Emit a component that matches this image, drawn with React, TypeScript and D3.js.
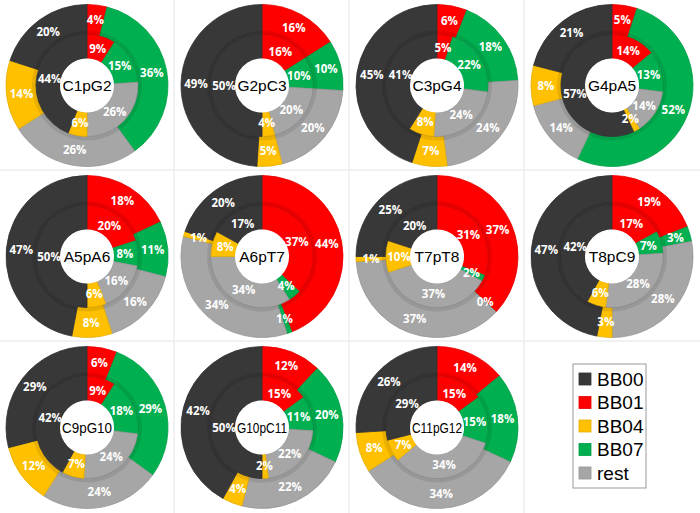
import * as d3 from "d3";
import { useEffect, useRef } from "react";

// pairs shown in each panel, left-to-right, top-to-bottom
const panels = [
  "C1pG2", "G2pC3", "C3pG4", "G4pA5",
  "A5pA6", "A6pT7", "T7pT8", "T8pC9",
  "C9pG10", "G10pC11", "C11pG12",
];

// slice order clockwise from 12 o'clock
const sliceKeys = ["BB01", "BB07", "rest", "BB04", "BB00"];
const legendKeys = ["BB00", "BB01", "BB04", "BB07", "rest"];

// outer ring shares (%), same order as sliceKeys
const outerShares = [
  [4, 36, 26, 14, 20],
  [16, 10, 20, 5, 49],
  [6, 18, 24, 7, 45],
  [5, 52, 14, 8, 21],
  [18, 11, 16, 8, 47],
  [44, 1, 34, 1, 20],
  [37, 0, 37, 1, 25],
  [19, 3, 28, 3, 47],
  [6, 29, 24, 12, 29],
  [12, 20, 22, 4, 42],
  [14, 18, 34, 8, 26],
];

// inner ring shares (%)
const innerShares = [
  [9, 15, 26, 6, 44],
  [16, 10, 20, 4, 50],
  [5, 22, 24, 8, 41],
  [14, 13, 14, 2, 57],
  [20, 8, 16, 6, 50],
  [37, 4, 34, 8, 17],
  [31, 2, 37, 10, 20],
  [17, 7, 28, 6, 42],
  [9, 18, 24, 7, 42],
  [15, 11, 22, 2, 50],
  [15, 15, 34, 7, 29],
];

const colors: Record<string, string> = {
  BB00: "#383838",
  BB01: "#ff0000",
  BB04: "#ffc000",
  BB07: "#00b050",
  rest: "#a6a6a6",
};

type Slice = { key: string; value: number };

export default function App() {
  const ref = useRef<SVGSVGElement | null>(null);
  const width = 700;
  const height = 513;

  useEffect(() => {
    document.body.style.margin = "0";
    const svg = d3.select(ref.current);
    svg.selectAll("*").remove();

    const col = d3.scaleBand<number>().domain([0, 1, 2, 3]).range([0, width]);
    const row = d3.scaleBand<number>().domain([0, 1, 2]).range([0, height]);

    svg.append("rect").attr("width", width).attr("height", height).attr("fill", "#fff");

    // faint cell separators
    const grid = svg.append("g").attr("stroke", "#ededed").attr("stroke-width", 1.5);
    [1, 2, 3].forEach((c) =>
      grid.append("line")
        .attr("x1", col(c)! - 1).attr("x2", col(c)! - 1)
        .attr("y1", 0).attr("y2", height)
    );
    [1, 2].forEach((r) =>
      grid.append("line")
        .attr("y1", row(r)! - 1).attr("y2", row(r)! - 1)
        .attr("x1", 0).attr("x2", width)
    );

    const rHole = 27;
    const rMid = 51;
    const rOut = 81;

    const pie = d3.pie<Slice>().sort(null).value((d) => d.value);

    const innerArc = d3.arc<d3.PieArcDatum<Slice>>().innerRadius(rHole).outerRadius(rMid);
    const outerArc = d3.arc<d3.PieArcDatum<Slice>>().innerRadius(rMid).outerRadius(rOut);
    const innerLabel = d3.arc<d3.PieArcDatum<Slice>>().innerRadius(38).outerRadius(38);
    const outerLabel = d3.arc<d3.PieArcDatum<Slice>>().innerRadius(66).outerRadius(66);

    panels.forEach((name, i) => {
      const cx = col(i % 4)! + col.bandwidth() / 2 - 0.5;
      const cy = row(Math.floor(i / 4))! + row.bandwidth() / 2;
      const g = svg.append("g").attr("transform", `translate(${cx},${cy})`);

      const rings = [
        { shares: outerShares[i], arc: outerArc, label: outerLabel },
        { shares: innerShares[i], arc: innerArc, label: innerLabel },
      ];

      rings.forEach((ring) => {
        const arcs = pie(sliceKeys.map((k, j) => ({ key: k, value: ring.shares[j] })));
        g.append("g")
          .selectAll("path")
          .data(arcs)
          .join("path")
          .attr("d", ring.arc)
          .attr("fill", (d) => colors[d.data.key])
          .attr("stroke", (d) => d3.color(colors[d.data.key])!.darker(0.3).formatHex())
          .attr("stroke-width", 0.8);
      });

      // soft shaded band where the two rings meet
      g.append("path")
        .attr("d", d3.arc()({ innerRadius: rMid, outerRadius: rMid + 4, startAngle: 0, endAngle: 2 * Math.PI })!)
        .attr("fill", "#000")
        .attr("opacity", 0.09);

      rings.forEach((ring) => {
        const arcs = pie(sliceKeys.map((k, j) => ({ key: k, value: ring.shares[j] })));
        g.append("g")
          .selectAll("text")
          .data(arcs)
          .join("text")
          .attr("transform", (d) => `translate(${ring.label.centroid(d)})`)
          .attr("text-anchor", "middle")
          .attr("dy", "0.36em")
          .attr("fill", "#fff")
          .style("font-family", "'Open Sans', sans-serif")
          .style("font-weight", "bold")
          .style("font-size", "11.5px")
          .text((d) => `${d.data.value}%`);
      });

      g.append("circle").attr("r", rHole).attr("fill", "#fff");
      const title = g.append("text")
        .attr("text-anchor", "middle")
        .attr("dy", "0.36em")
        .style("font-family", "'Liberation Sans', Arial, sans-serif")
        .style("font-size", "15.5px")
        .attr("fill", "#000")
        .text(name);
      // squeeze long names so they stay inside the hole
      const tw = (title.node() as SVGTextElement).getComputedTextLength();
      if (tw > 50) {
        title.attr("textLength", 50).attr("lengthAdjust", "spacingAndGlyphs");
      }
    });

    // legend in the last cell
    const lg = svg.append("g").attr("transform", `translate(${col(3)! + 48},${row(2)! + 22})`);
    lg.append("rect")
      .attr("width", 73)
      .attr("height", 124)
      .attr("fill", "#fff")
      .attr("stroke", "#999");
    const ly = d3.scalePoint<string>().domain(legendKeys).range([15, 109]);
    legendKeys.forEach((k) => {
      lg.append("rect")
        .attr("x", 6)
        .attr("y", ly(k)! - 6)
        .attr("width", 12)
        .attr("height", 12)
        .attr("fill", colors[k])
        .attr("stroke", d3.color(colors[k])!.darker(0.3).formatHex())
        .attr("stroke-width", 0.8);
      lg.append("text")
        .attr("x", 24)
        .attr("y", ly(k)!)
        .attr("dy", "0.36em")
        .style("font-family", "'Liberation Sans', Arial, sans-serif")
        .style("font-size", "19px")
        .attr("fill", "#000")
        .text(k);
    });
  }, []);

  return <svg ref={ref} width={width} height={height} style={{ display: "block" }} />;
}
